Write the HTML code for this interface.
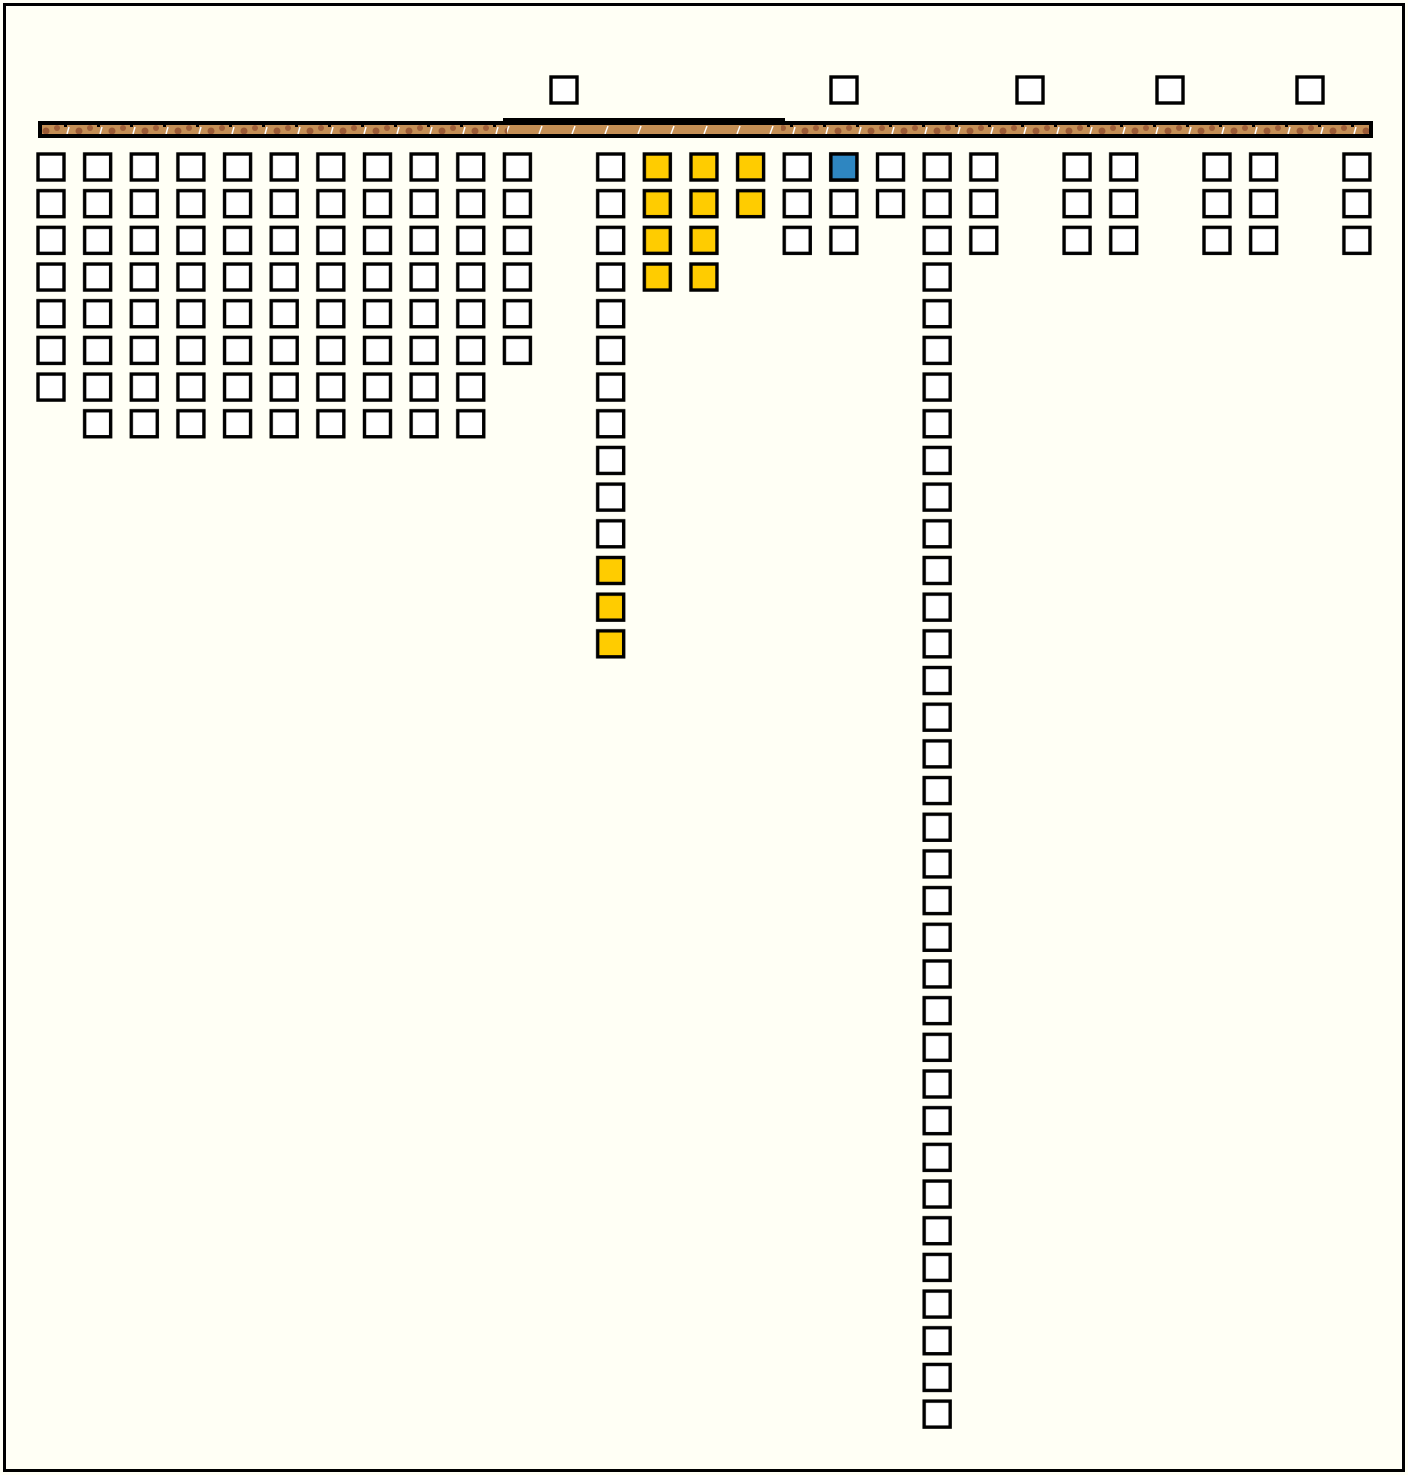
<!DOCTYPE html>
<html><head><meta charset="utf-8"><style>
html,body{margin:0;padding:0;background:#fffff5;}
svg{display:block;}
</style></head><body>
<svg width="1408" height="1475" xmlns="http://www.w3.org/2000/svg">
<defs>
<pattern id="w" patternUnits="userSpaceOnUse" x="35.5" y="151.5" width="46.64" height="36.68">
<rect x="2.5" y="2.5" width="26" height="26" fill="#fff" stroke="#000" stroke-width="3.4"/>
</pattern>
<pattern id="y" patternUnits="userSpaceOnUse" x="35.5" y="151.5" width="46.64" height="36.68">
<rect x="2.5" y="2.5" width="26" height="26" fill="#ffcc00" stroke="#000" stroke-width="3.4"/>
</pattern>
<pattern id="tex" patternUnits="userSpaceOnUse" x="38" y="125" width="33" height="10">
<rect width="33" height="10" fill="#c48f55"/>
<circle cx="8" cy="6" r="3.5" fill="#9a5a35"/>
<circle cx="19" cy="3" r="3" fill="#a0603a"/>
<path d="M29 9 L31 2" stroke="#fff" stroke-width="1.5"/>
<path d="M26 1 L29 1" stroke="#000" stroke-width="2"/>
</pattern>
<pattern id="tex2" patternUnits="userSpaceOnUse" x="503" y="125" width="33" height="10">
<rect width="33" height="10" fill="#c48f55"/>
<path d="M3 9 L6 1" stroke="#fff" stroke-width="1.5"/>
</pattern>
</defs>
<rect x="0" y="0" width="1408" height="1475" fill="#fffff5"/>
<rect x="4.5" y="4.5" width="1399" height="1466" fill="none" stroke="#000" stroke-width="3"/>
<rect x="38" y="121" width="1335" height="17" fill="#000"/>
<rect x="503" y="118" width="282" height="6" fill="#000"/>
<rect x="42" y="125" width="1327" height="9" fill="url(#tex)"/>
<rect x="507" y="125" width="274" height="9" fill="url(#tex2)"/>
<g fill="#fff" stroke="#000" stroke-width="3.4">
<rect x="551" y="77" width="26" height="26"/>
<rect x="831" y="77" width="26" height="26"/>
<rect x="1017" y="77" width="26" height="26"/>
<rect x="1157" y="77" width="26" height="26"/>
<rect x="1297" y="77" width="26" height="26"/>
</g>
<rect x="35.5" y="151.5" width="46.64" height="256.76" fill="url(#w)"/>
<rect x="82.14" y="151.5" width="419.76" height="293.44" fill="url(#w)"/>
<rect x="501.9" y="151.5" width="46.64" height="220.08" fill="url(#w)"/>
<rect x="595.18" y="151.5" width="46.64" height="403.48" fill="url(#w)"/>
<rect x="595.18" y="554.98" width="46.64" height="110.04" fill="url(#y)"/>
<rect x="641.82" y="151.5" width="93.28" height="146.72" fill="url(#y)"/>
<rect x="735.1" y="151.5" width="46.64" height="73.36" fill="url(#y)"/>
<rect x="781.74" y="151.5" width="93.28" height="110.04" fill="url(#w)"/>
<rect x="875.02" y="151.5" width="46.64" height="73.36" fill="url(#w)"/>
<rect x="921.66" y="151.5" width="46.64" height="1283.8" fill="url(#w)"/>
<rect x="968.3" y="151.5" width="46.64" height="110.04" fill="url(#w)"/>
<rect x="1061.58" y="151.5" width="93.28" height="110.04" fill="url(#w)"/>
<rect x="1201.5" y="151.5" width="93.28" height="110.04" fill="url(#w)"/>
<rect x="1341.42" y="151.5" width="46.64" height="110.04" fill="url(#w)"/>
<rect x="830.88" y="154" width="26" height="26" fill="#2e86c1" stroke="#000" stroke-width="3.4"/>
</svg>
</body></html>
